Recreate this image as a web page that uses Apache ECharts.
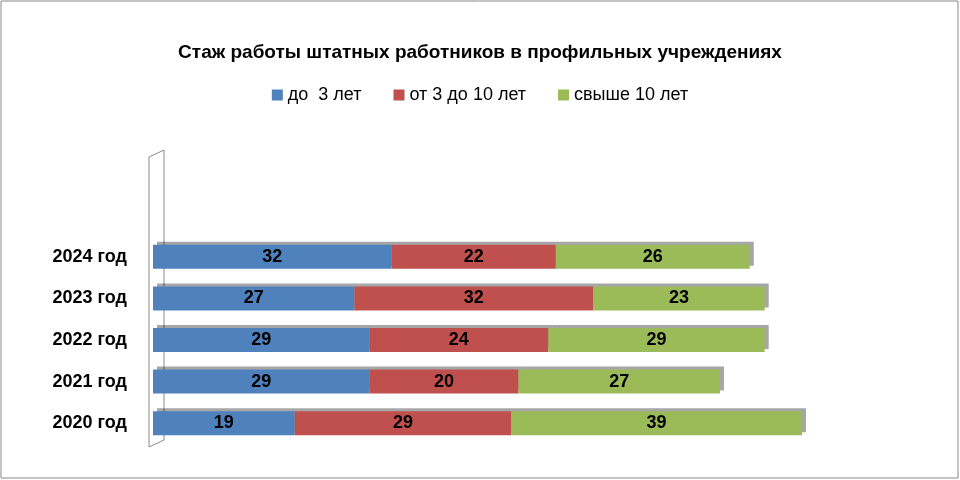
<!DOCTYPE html>
<html><head><meta charset="utf-8">
<script src="https://cdn.jsdelivr.net/npm/echarts@6/dist/echarts.min.js"></script>
<style>html,body{margin:0;padding:0;background:#fff}#c{width:960px;height:480px}</style>
</head><body><div id="c"></div>
<script>
const categories = ['2020 год','2021 год','2022 год','2023 год','2024 год'];
const seriesNames = ['до  3 лет','от 3 до 10 лет','свыше 10 лет'];
const under3 = [19,29,29,27,32];
const from3to10 = [29,20,24,32,22];
const over10 = [39,27,29,23,26];
const colors = ['#4F81BD','#C0504D','#9BBB59'];
const data = [under3, from3to10, over10];
const chart = echarts.init(document.getElementById('c'));
chart.setOption({
  animation:false,
  textStyle:{fontFamily:'Liberation Sans, Arial'},
  title:{text:'Стаж работы штатных работников в профильных учреждениях',left:'center',top:38,
    textStyle:{fontSize:19,fontWeight:'bold',color:'#000',fontFamily:'Liberation Sans, Arial'}},
  legend:{top:81,left:'center',itemWidth:11,itemHeight:11,itemGap:32,icon:'rect',
    textStyle:{fontSize:18,color:'#000'}},
  grid:{left:153,right:61,top:236,bottom:36},
  xAxis:{type:'value',min:0,max:100,show:false},
  yAxis:{type:'category',data:categories,axisLine:{show:false},axisTick:{show:false},
    axisLabel:{fontSize:18,fontWeight:'bold',color:'#000',margin:26}},
  graphic:[
    {type:'rect',shape:{x:1,y:1,width:957,height:477},style:{fill:'none',stroke:'#888',lineWidth:1}},
    {type:'polygon',shape:{points:[[149,157],[164,150],[164,440],[149,447]]},style:{fill:'#fff',stroke:'#888',lineWidth:1}}
  ],
  series: seriesNames.map((n,i)=>({
    name:n,type:'bar',stack:'s',data:data[i],barWidth:24,
    itemStyle:{color:colors[i],shadowColor:'rgba(0,0,0,0.35)',shadowOffsetX:4,shadowOffsetY:-3},
    label:{show:true,position:'inside',fontSize:18,fontWeight:'bold',color:'#000'}
  }))
});
</script></body></html>
